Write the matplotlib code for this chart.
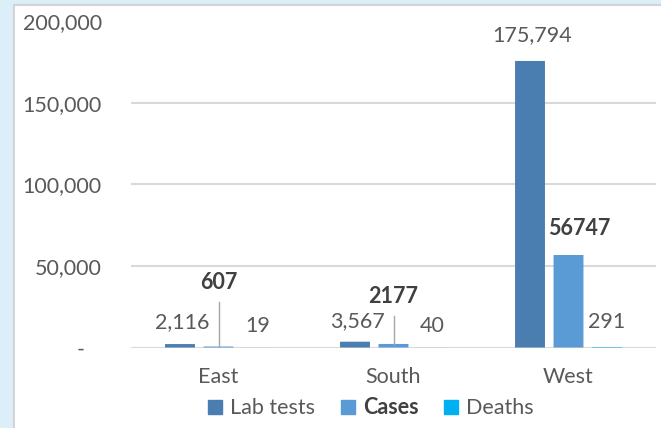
import matplotlib.pyplot as plt
from matplotlib.patches import Rectangle
from matplotlib.lines import Line2D
from matplotlib.ticker import FuncFormatter

regions = ["East", "South", "West"]
lab_tests = [2116, 3567, 175794]
cases = [607, 2177, 56747]
deaths = [19, 40, 291]

series_names = ["Lab tests", "Cases", "Deaths"]
colors = ["#4A7EB0", "#5B9BD5", "#00B0F0"]

# label spots (data y) as they were dragged in the original chart
lab_label_y = [15600, 16300, 191700]
case_label_y = [39600, 31000, 72700]
death_label_y = [13200, 13200, 15600]

FONT = "Lato"
FS = 15.5
TXT = "#595959"
BOLD_TXT = "#404040"
GRID = "#D9D9D9"


def fmt_y(v, pos):
    if v == 0:
        return "-   "
    return f"{int(v):,}"


def main():
    fig = plt.figure(figsize=(6.61, 4.28), dpi=100, facecolor="#DCEEF8")
    fig.patches.append(Rectangle((14 / 661, -0.01), 1.0, 1 - 5 / 428 + 0.01,
                                 transform=fig.transFigure, facecolor="white",
                                 edgecolor="#D4D4D4", linewidth=1.5, zorder=-5))

    ax = fig.add_axes([131 / 661, 1 - 347.5 / 428, 525 / 661, 326 / 428])
    ax.set_facecolor("none")

    width = 0.171
    step = 0.22
    x = list(range(len(regions)))
    for i, (vals, col) in enumerate(zip([lab_tests, cases, deaths], colors)):
        xs = [k + (i - 1) * step for k in x]
        bars = ax.bar(xs, vals, width=width, color=col, edgecolor="none", linewidth=0, zorder=3)
        for b in bars:
            b.set_snap(False)

    ax.set_xlim(-0.5, 2.5)
    ax.set_ylim(0, 200000)
    ax.set_yticks([0, 50000, 100000, 150000, 200000])
    ax.yaxis.set_major_formatter(FuncFormatter(fmt_y))
    ax.grid(axis="y", color=GRID, linewidth=1.5, zorder=0)
    ax.set_axisbelow(True)
    for s in ax.spines.values():
        s.set_visible(False)
    ax.set_xticks(x)
    ax.set_xticklabels(regions)
    ax.tick_params(axis="both", length=0, colors=TXT, labelsize=FS)
    ax.tick_params(axis="y", pad=21)
    ax.tick_params(axis="x", pad=14)
    for t in ax.get_xticklabels() + ax.get_yticklabels():
        t.set_fontfamily(FONT)

    for k in x:
        ax.text(k - 0.205, lab_label_y[k], f"{lab_tests[k]:,}", ha="center", va="center",
                fontsize=FS, color=TXT, family=FONT, zorder=4)
        ax.text(k + (0.063 if k == 2 else 0.0), case_label_y[k],
                f"{cases[k]}", ha="center", va="center", fontsize=FS,
                color=BOLD_TXT, family=FONT, fontweight="bold", zorder=4)
        ax.text(k + (0.217 if k == 2 else 0.223), death_label_y[k], f"{deaths[k]:,}",
                ha="center", va="center", fontsize=FS, color=TXT, family=FONT, zorder=4)

    # leader lines for the small case bars
    for k in (0, 1):
        top = case_label_y[k] - 11700
        ax.plot([k, k], [cases[k], top], color="#A6A6A6", linewidth=1, zorder=4)

    handles = [Line2D([], [], marker="s", linestyle="none", markersize=10.5,
                      markerfacecolor=c, markeredgecolor=c) for c in colors]
    leg = fig.legend(handles, series_names, loc="center", bbox_to_anchor=(370 / 661, 1 - 408 / 428),
                     ncol=3, frameon=False, handlelength=0.8, handletextpad=0.3,
                     columnspacing=1.1, prop={"family": FONT, "size": FS})
    for i, t in enumerate(leg.get_texts()):
        t.set_color(BOLD_TXT if i == 1 else TXT)
        if i == 1:
            t.set_fontweight("bold")

    fig.savefig("out.png", dpi=100, facecolor=fig.get_facecolor())


if __name__ == "__main__":
    main()
